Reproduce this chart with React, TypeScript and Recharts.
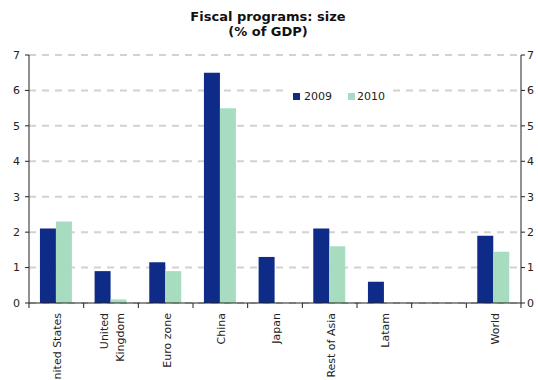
import React from 'react';
import { ComposedChart, Bar, Line, XAxis, YAxis, CartesianGrid, Legend } from 'recharts';

const categories = ['United States', 'United\nKingdom', 'Euro zone', 'China', 'Japan', 'Rest of Asia', 'Latam', '', 'World'];
const values2009: (number | null)[] = [2.1, 0.9, 1.15, 6.5, 1.3, 2.1, 0.6, null, 1.9];
const values2010: (number | null)[] = [2.3, 0.1, 0.9, 5.5, null, 1.6, null, null, 1.45];
const seriesNames = ['2009', '2010'];
const yTicks = [0, 1, 2, 3, 4, 5, 6, 7];
const titleLines = ['Fiscal programs: size', '(% of GDP)'];

const data = categories.map((c, i) => ({ name: c, v2009: values2009[i], v2010: values2010[i] }));

const NAVY = '#0e2b87';
const MINT = '#a8dcc1';
const FONT = '"DejaVu Sans", Verdana, sans-serif';

const XTick = (props: any) => {
  const { x, y, payload, width, index } = props;
  const lines = String(payload.value).split('\n');
  const lh = 16;
  const band = (width || 492) / categories.length;
  const isLast = index === categories.length - 1;
  return (
    <g transform={`translate(${x},${y})`}>
      <line x1={-band / 2} x2={-band / 2} y1={0} y2={5} stroke="#222" />
      {isLast && <line x1={band / 2} x2={band / 2} y1={0} y2={5} stroke="#222" />}
      {lines.map((l, i) => (
        <text
          key={i}
          transform="rotate(-90)"
          x={-10}
          y={(i - (lines.length - 1) / 2) * lh + 1}
          dy="0.35em"
          textAnchor="end"
          fontSize={11}
          fontFamily={FONT}
          fill="#222"
        >
          {l}
        </text>
      ))}
    </g>
  );
};

const LegendContent = () => (
  <div style={{ display: 'flex', alignItems: 'center', background: '#fff', height: 22, fontFamily: FONT, fontSize: 11, color: '#222' }}>
    <span style={{ display: 'inline-block', width: 7, height: 7, background: NAVY, marginLeft: 5 }} />
    <span style={{ marginLeft: 4 }}>{seriesNames[0]}</span>
    <span style={{ display: 'inline-block', width: 7, height: 7, background: MINT, marginLeft: 16 }} />
    <span style={{ marginLeft: 2 }}>{seriesNames[1]}</span>
  </div>
);

export default function App() {
  return (
    <div style={{ position: 'absolute', left: 0, top: 0, width: 538, height: 380, background: '#fff' }}>
      <div
        style={{
          position: 'absolute',
          left: 0,
          top: 9,
          width: 536,
          textAlign: 'center',
          fontFamily: FONT,
          fontWeight: 'bold',
          fontSize: 13,
          lineHeight: '15px',
          color: '#111',
          zIndex: 2,
        }}
      >
        {titleLines.map((t, i) => (
          <div key={i}>{t}</div>
        ))}
      </div>
      <ComposedChart
        width={538}
        height={380}
        data={data}
        margin={{ top: 55, right: 0, bottom: 0, left: 0 }}
        barGap={0}
        barCategoryGap="20%"
      >
        <CartesianGrid horizontal vertical={false} stroke="#d2d2d2" strokeWidth={2} strokeDasharray="7 6" yAxisId="left" />
        <XAxis
          dataKey="name"
          type="category"
          height={77}
          interval={0}
          axisLine={{ stroke: '#222' }}
          tickLine={false}
          tickSize={0}
          tickMargin={0}
          tick={<XTick />}
        />
        <YAxis
          yAxisId="left"
          orientation="left"
          width={29}
          domain={[0, 7]}
          ticks={yTicks}
          tickSize={4}
          tickMargin={5}
          stroke="#222"
          tick={{ fontSize: 11, fontFamily: FONT, fill: '#222' }}
        />
        <YAxis
          yAxisId="right"
          orientation="right"
          width={17}
          domain={[0, 7]}
          ticks={yTicks}
          tickSize={4}
          tickMargin={2}
          stroke="#222"
          tick={{ fontSize: 11, fontFamily: FONT, fill: '#222', textAnchor: 'start' }}
        />
        <Legend
          layout="horizontal"
          verticalAlign="middle"
          align="center"
          content={<LegendContent />}
          wrapperStyle={{ position: 'absolute', left: 288, top: 85, width: 100, height: 22 }}
        />
        <Bar yAxisId="left" dataKey="v2009" name={seriesNames[0]} fill={NAVY} isAnimationActive={false} />
        <Bar yAxisId="left" dataKey="v2010" name={seriesNames[1]} fill={MINT} isAnimationActive={false} />
        <Line
          yAxisId="right"
          dataKey="v2009"
          stroke="none"
          dot={false}
          activeDot={false}
          legendType="none"
          isAnimationActive={false}
        />
      </ComposedChart>
    </div>
  );
}
